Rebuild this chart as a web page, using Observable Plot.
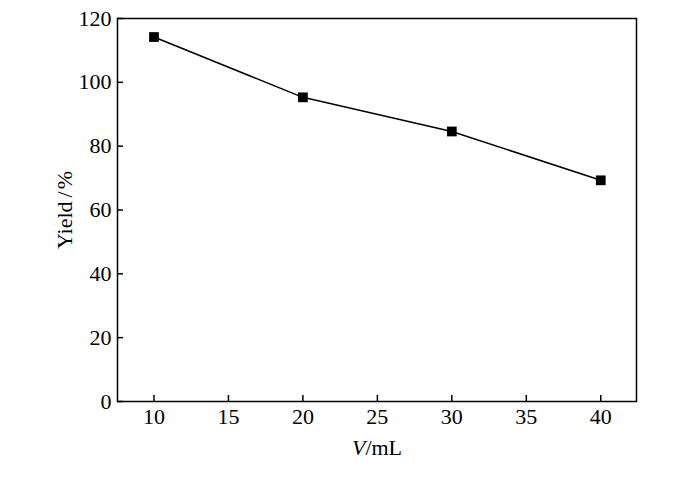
<!DOCTYPE html>
<html>
<head>
<meta charset="utf-8">
<script src="https://cdn.jsdelivr.net/npm/d3@7"></script>
<script src="https://cdn.jsdelivr.net/npm/@observablehq/plot@0.6"></script>
<style>
  html, body { margin: 0; padding: 0; background: #fff; }
  #chart svg { display: block; }
</style>
</head>
<body>
<div id="chart"></div>
<script>
const volume = [10, 20, 30, 40];
const yieldPct = [114.2, 95.3, 84.6, 69.3];
const xTicks = [10, 15, 20, 25, 30, 35, 40];
const yTicks = [0, 20, 40, 60, 80, 100, 120];

const data = volume.map((v, i) => ({v, y: yieldPct[i]}));

const serif = "'Liberation Serif', 'Times New Roman', serif";

const chart = Plot.plot({
  width: 700,
  height: 481,
  marginLeft: 117,
  marginRight: 64,
  marginTop: 18,
  marginBottom: 80,
  style: {fontFamily: serif, fontSize: "22px", color: "#000", background: "#fff"},
  x: {domain: [7.55, 42.4]},
  y: {domain: [0, 120]},
  marks: [
    Plot.frame({stroke: "#000", strokeWidth: 1.5}),
    Plot.axisX({ticks: xTicks, tickSize: -6, tickPadding: 13, strokeWidth: 1.5, fontSize: 22, fontFamily: serif, label: "V/mL", labelAnchor: "center", labelArrow: "none", labelOffset: 53}),
    Plot.axisY({ticks: yTicks, tickSize: -6, tickPadding: 12, strokeWidth: 1.5, fontSize: 22, fontFamily: serif, label: "Yield/%", labelAnchor: "center", labelArrow: "none", labelOffset: 61}),
    Plot.line(data, {x: "v", y: "y", stroke: "#000", strokeWidth: 1.5}),
    Plot.dot(data, {x: "v", y: "y", symbol: "square", r: 5.5, fill: "#000", stroke: "none"})
  ]
});

document.getElementById("chart").appendChild(chart);

// Italicise "V" in the x-axis label
d3.select(chart).selectAll("g[aria-label='x-axis label'] text").each(function() {
  const t = d3.select(this);
  if (t.text() === "V/mL") {
    t.text("");
    t.append("tspan").attr("font-style", "italic").text("V");
    t.append("tspan").text("/mL");
  }
});
// Spread the slash in the y-axis label as in the original typesetting
d3.select(chart).selectAll("g[aria-label='y-axis label'] text").each(function() {
  const t = d3.select(this);
  if (t.text() === "Yield/%") {
    t.text("");
    t.append("tspan").text("Yield");
    t.append("tspan").attr("dx", 4).text("/");
    t.append("tspan").attr("dx", 2).text("%");
  }
});
</script>
</body>
</html>
